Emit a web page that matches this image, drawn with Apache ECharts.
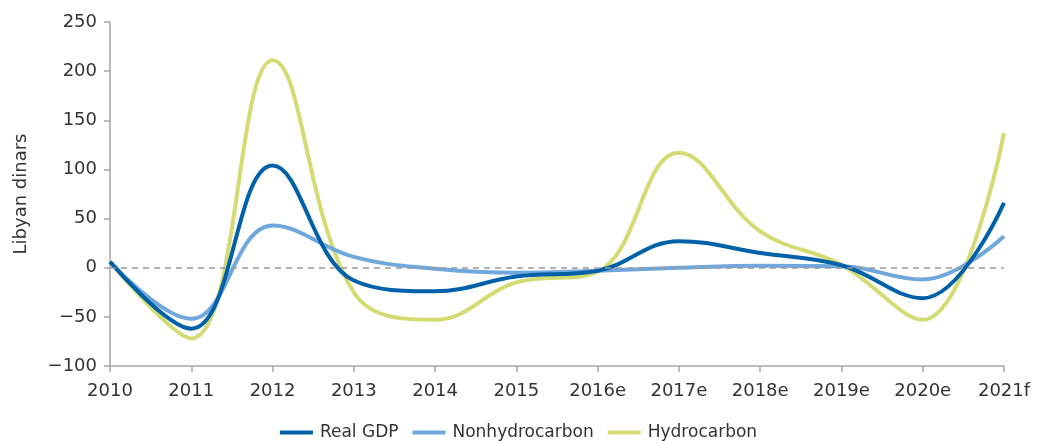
<!DOCTYPE html>
<html>
<head>
<meta charset="utf-8">
<script src="https://cdn.jsdelivr.net/npm/echarts@6/dist/echarts.min.js"></script>
<style>
html,body{margin:0;padding:0;background:#fff;}
#chart{width:1037px;height:441px;}
</style>
</head>
<body>
<div id="chart"></div>
<script>
const categories = ['2010','2011','2012','2013','2014','2015','2016e','2017e','2018e','2019e','2020e','2021f'];
const realGDP = [6, -62, 104, -13, -24, -9, -3, 27, 15, 2.5, -31, 66];
const nonhydrocarbon = [6, -52, 43, 11, -1, -5, -3, 0, 2, 1.5, -12, 32];
const hydrocarbon = [6, -72, 211, -25, -53, -15, -4, 117, 37, 3, -53, 137];
const yTicks = { min: -100, max: 250, interval: 50 };

const FONT = 'DejaVu Sans';
const TXT = '#333333';
const AXIS = '#a6a6a6';
const SMOOTH = 0.4;

const chart = echarts.init(document.getElementById('chart'), null, {renderer: 'canvas'});
chart.setOption({
  animation: false,
  backgroundColor: '#ffffff',
  textStyle: { fontFamily: FONT, color: TXT },
  grid: { left: 110, right: 33, top: 22, bottom: 75, containLabel: false },
  legend: {
    top: 419,
    left: 'center',
    icon: 'rect',
    itemWidth: 33,
    itemHeight: 4,
    itemGap: 14,
    textStyle: { fontFamily: FONT, fontSize: 17, color: TXT, padding: [0, 0, 0, 2] },
    data: ['Real GDP', 'Nonhydrocarbon', 'Hydrocarbon']
  },
  xAxis: {
    type: 'category',
    data: categories,
    boundaryGap: false,
    axisLine: { onZero: false, lineStyle: { color: AXIS, width: 1.5 } },
    axisTick: { show: true, length: 6, lineStyle: { color: AXIS, width: 1.5 } },
    axisLabel: { fontFamily: FONT, fontSize: 18, color: TXT, margin: 16 },
    splitLine: { show: false }
  },
  yAxis: {
    type: 'value',
    min: yTicks.min,
    max: yTicks.max,
    interval: yTicks.interval,
    name: 'Libyan dinars',
    nameLocation: 'middle',
    nameGap: 80,
    nameTextStyle: { fontFamily: FONT, fontSize: 18, color: TXT },
    axisLine: { show: true, lineStyle: { color: AXIS, width: 1.5 } },
    axisTick: { show: true, length: 6, lineStyle: { color: AXIS, width: 1.5 } },
    axisLabel: {
      fontFamily: FONT, fontSize: 18, color: TXT, margin: 13,
      formatter: v => (v < 0 ? '\u2212' + Math.abs(v) : String(v))
    },
    splitLine: { show: false }
  },
  series: [
    {
      name: 'Real GDP', type: 'line', data: realGDP, smooth: SMOOTH,
      showSymbol: false, symbol: 'none', z: 3,
      lineStyle: { color: '#0061a8', width: 4 },
      itemStyle: { color: '#0061a8' },
      markLine: {
        silent: true, symbol: 'none', label: { show: false },
        lineStyle: { color: '#999999', type: [6, 5], width: 1.5 },
        data: [{ yAxis: 0 }]
      }
    },
    {
      name: 'Nonhydrocarbon', type: 'line', data: nonhydrocarbon, smooth: SMOOTH,
      showSymbol: false, symbol: 'none', z: 2,
      lineStyle: { color: '#70a7dc', width: 4 },
      itemStyle: { color: '#70a7dc' }
    },
    {
      name: 'Hydrocarbon', type: 'line', data: hydrocarbon, smooth: SMOOTH,
      showSymbol: false, symbol: 'none', z: 1,
      lineStyle: { color: '#d4db72', width: 4 },
      itemStyle: { color: '#d4db72' }
    }
  ]
});
</script>
</body>
</html>
